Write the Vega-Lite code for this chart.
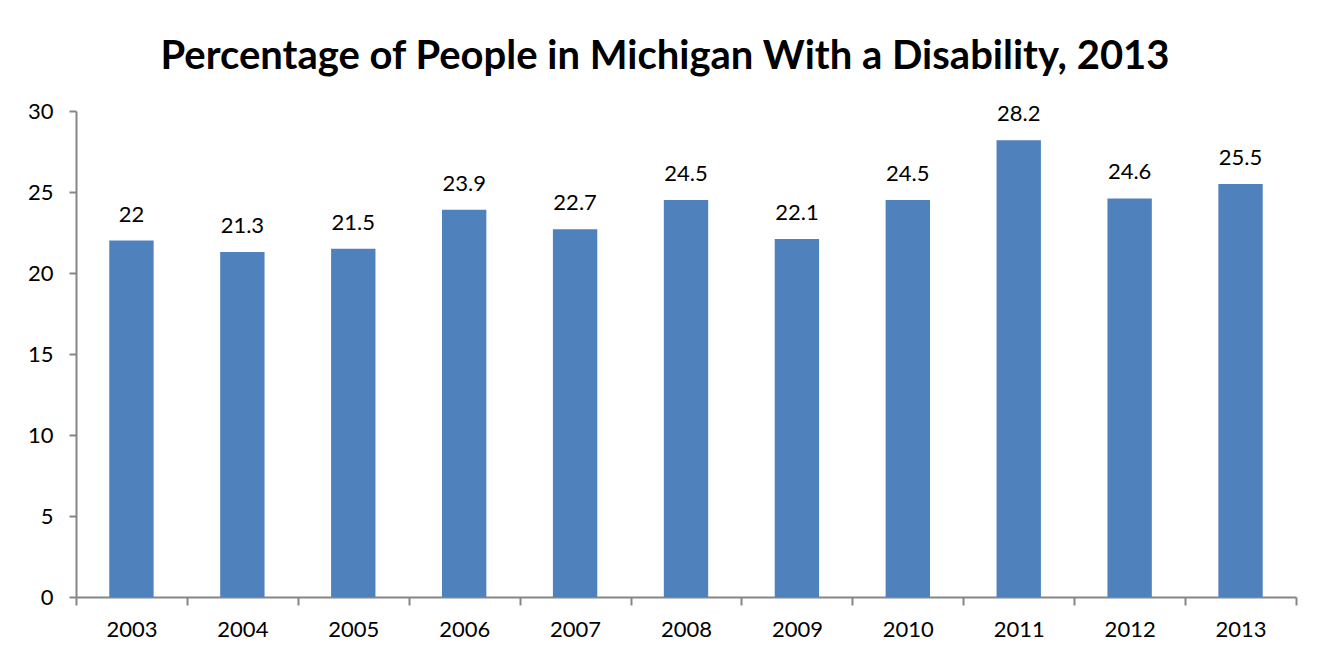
{
  "$schema": "https://vega.github.io/schema/vega-lite/v6.json",
  "autosize": "none",
  "width": 1220,
  "height": 486,
  "padding": {"left": 76, "top": 111, "right": 21, "bottom": 62},
  "background": "white",
  "title": {
    "text": "Percentage of People in Michigan With a Disability, 2013",
    "font": "Lato",
    "fontSize": 40,
    "fontWeight": "bold",
    "color": "#000000",
    "anchor": "middle",
    "dx": -21,
    "offset": 23
  },
  "data": {
    "values": [
      {"year": "2003", "pct": 22},
      {"year": "2004", "pct": 21.3},
      {"year": "2005", "pct": 21.5},
      {"year": "2006", "pct": 23.9},
      {"year": "2007", "pct": 22.7},
      {"year": "2008", "pct": 24.5},
      {"year": "2009", "pct": 22.1},
      {"year": "2010", "pct": 24.5},
      {"year": "2011", "pct": 28.2},
      {"year": "2012", "pct": 24.6},
      {"year": "2013", "pct": 25.5}
    ]
  },
  "encoding": {
    "x": {
      "field": "year",
      "type": "nominal",
      "sort": null,
      "scale": {"paddingInner": 0, "paddingOuter": 0},
      "axis": {
        "title": null,
        "labelAngle": 0,
        "labelFont": "Lato",
        "labelFontSize": 22,
        "labelColor": "#000000",
        "labelPadding": 14,
        "tickBand": "extent",
        "tickSize": 8,
        "tickColor": "#868686",
        "tickWidth": 2,
        "domainColor": "#868686",
        "domainWidth": 2,
        "grid": false
      }
    },
    "y": {
      "field": "pct",
      "type": "quantitative",
      "scale": {"domain": [0, 30], "nice": false},
      "axis": {
        "title": null,
        "values": [0, 5, 10, 15, 20, 25, 30],
        "labelFont": "Lato",
        "labelFontSize": 22,
        "labelColor": "#000000",
        "labelPadding": 16,
        "tickSize": 7,
        "tickColor": "#868686",
        "tickWidth": 2,
        "domainColor": "#868686",
        "domainWidth": 2,
        "grid": false
      }
    }
  },
  "layer": [
    {
      "mark": {"type": "bar", "color": "#4F81BD", "width": {"band": 0.4}}
    },
    {
      "mark": {
        "type": "text",
        "font": "Lato",
        "fontSize": 22,
        "color": "#000000",
        "baseline": "bottom",
        "dy": -14
      },
      "encoding": {"text": {"field": "pct", "type": "quantitative"}}
    }
  ],
  "config": {"view": {"stroke": null}}
}
